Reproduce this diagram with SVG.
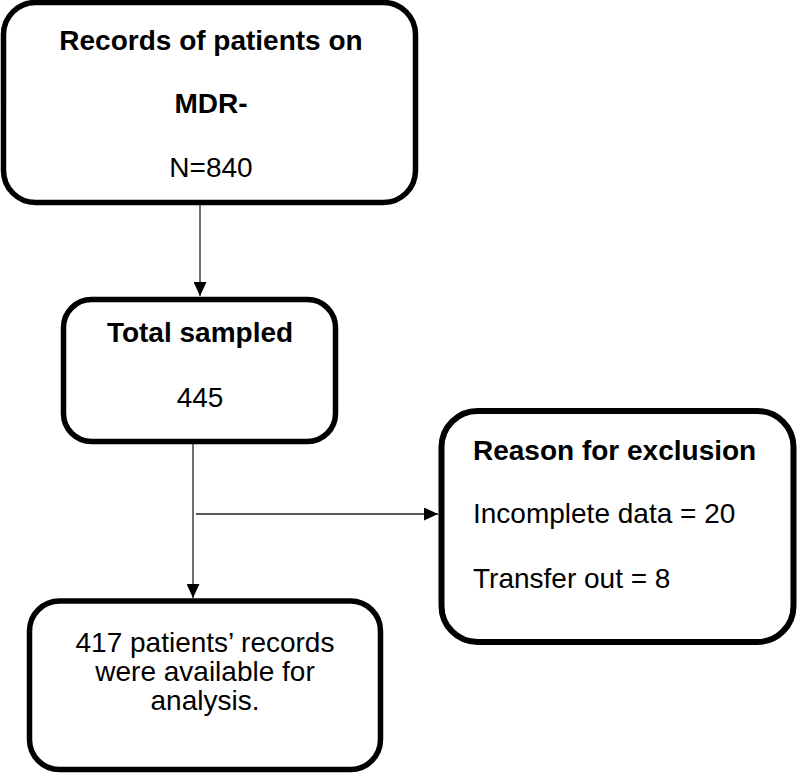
<svg xmlns="http://www.w3.org/2000/svg" width="799" height="773" viewBox="0 0 799 773">
<defs>
<style>
.box{fill:#fff;stroke:#000;stroke-width:5.5}
.t{font-family:"Liberation Sans",Arial,sans-serif;font-size:28px;fill:#000}
.b{font-weight:bold}
.c{text-anchor:middle}
.ln{stroke:#222;stroke-width:1.3;fill:none}
</style>
<marker id="ah" markerWidth="14" markerHeight="13" refX="14" refY="6.5" orient="auto" markerUnits="userSpaceOnUse">
<path d="M0,0 L14,6.5 L0,13 Z" fill="#000"/>
</marker>
</defs>
<g id="connectors">
<line class="ln" x1="200" y1="204" x2="200" y2="296" marker-end="url(#ah)"/>
<line class="ln" x1="193" y1="443" x2="193" y2="598" marker-end="url(#ah)"/>
<line class="ln" x1="196" y1="514" x2="438" y2="514" stroke="#444" marker-end="url(#ah)"/>
</g>
<g id="records">
<rect class="box" x="3.5" y="2.5" width="412" height="200" rx="32"/>
<text class="t b c" x="211" y="50">Records of patients on</text>
<text class="t b c" x="211" y="113">MDR-</text>
<text class="t c" x="211" y="177">N=840</text>
</g>
<g id="sampled">
<rect class="box" x="63.5" y="299.5" width="272" height="142" rx="28"/>
<text class="t b c" x="200" y="342">Total sampled</text>
<text class="t c" x="200" y="407">445</text>
</g>
<g id="exclusion">
<rect x="441.5" y="411" width="352" height="231" rx="36" fill="#fff" stroke="#000" stroke-width="6"/>
<text class="t b" x="473" y="460">Reason for exclusion</text>
<text class="t" x="473" y="523">Incomplete data = 20</text>
<text class="t" x="473" y="588">Transfer out = 8</text>
</g>
<g id="analysis">
<rect class="box" x="29.5" y="601" width="351" height="168.5" rx="30"/>
<text class="t c" x="205" y="652">417 patients’ records</text>
<text class="t c" x="205" y="681">were available for</text>
<text class="t c" x="205" y="710">analysis.</text>
</g>
</svg>
